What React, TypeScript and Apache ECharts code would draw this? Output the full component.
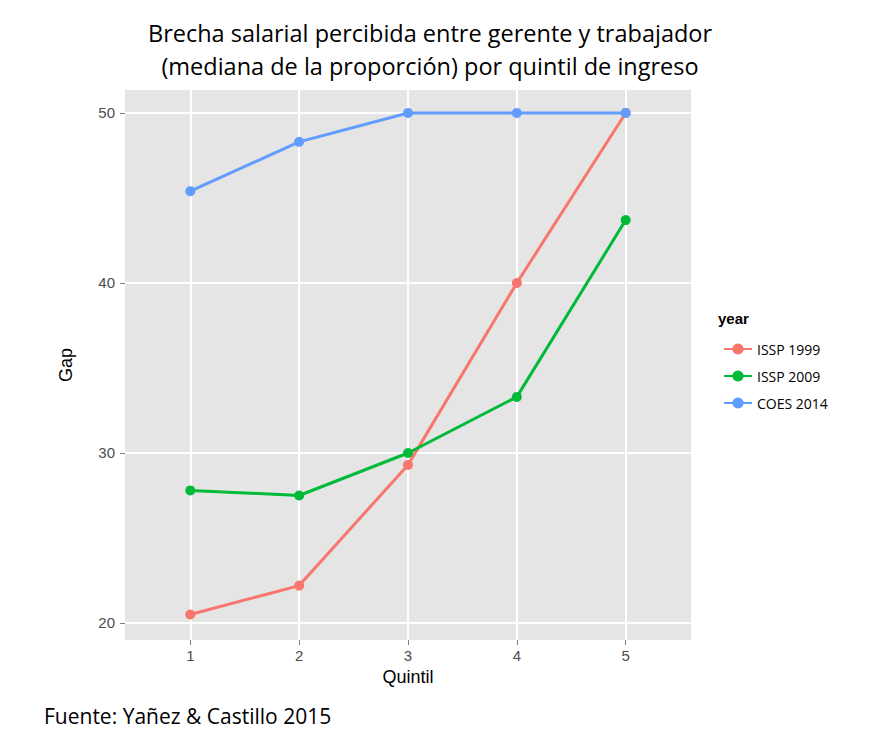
import React, { useEffect, useRef } from "react";
import * as echarts from "echarts";

const quintiles = [1, 2, 3, 4, 5];
const issp1999 = [20.5, 22.2, 29.3, 40, 50];
const issp2009 = [27.8, 27.5, 30, 33.3, 43.7];
const coes2014 = [45.4, 48.3, 50, 50, 50];
const yTicks = [20, 30, 40, 50];

const App: React.FC = () => {
  const chartRef = useRef<HTMLDivElement | null>(null);

  useEffect(() => {
    if (!chartRef.current) return;
    const chart = echarts.init(chartRef.current, undefined, { renderer: "svg" });

    const mkSeries = (name: string, vals: number[], color: string) => ({
      name,
      type: "line",
      data: quintiles.map((q, i) => [q, vals[i]]),
      symbol: "circle",
      symbolSize: 10,
      lineStyle: { width: 3, color },
      itemStyle: { color },
    });

    const option: echarts.EChartsOption = {
      animation: false,
      backgroundColor: "#ffffff",
      textStyle: { fontFamily: "Liberation Sans, Arial, sans-serif" },
      title: {
        text: "Brecha salarial percibida entre gerente y trabajador\n(mediana de la proporción) por quintil de ingreso",
        left: 425,
        top: 11,
        textAlign: "center",
        textStyle: { fontFamily: "Open Sans", fontSize: 23.5, fontWeight: "normal", color: "#000", lineHeight: 33 },
      },
      grid: { left: 125, right: 191, top: 90, bottom: 97, backgroundColor: "#e5e5e5", show: true, borderWidth: 0 },
      xAxis: {
        type: "value",
        min: 0.4,
        max: 5.6,
        name: "Quintil",
        nameLocation: "middle",
        nameGap: 26,
        nameTextStyle: { fontSize: 18, color: "#000" },
        axisLine: { show: false },
        axisTick: { show: true, length: 5, lineStyle: { color: "#7f7f7f" }, customValues: quintiles },
        axisLabel: { fontSize: 15, color: "#4d4d4d", customValues: quintiles, margin: 8 },
        splitLine: { show: true, lineStyle: { color: "#ffffff", width: 2 } },
      },
      yAxis: {
        type: "value",
        min: 19,
        max: 51.35,
        name: "Gap",
        nameLocation: "middle",
        nameGap: 50,
        nameTextStyle: { fontSize: 18, color: "#000" },
        axisLine: { show: false },
        axisTick: { show: true, length: 5, lineStyle: { color: "#7f7f7f" }, customValues: yTicks },
        axisLabel: { fontSize: 15, color: "#4d4d4d", customValues: yTicks, margin: 10 },
        splitLine: { show: true, lineStyle: { color: "#ffffff", width: 2 } },
      },
      legend: {
        orient: "vertical",
        left: 718,
        top: 337,
        itemGap: 13,
        itemWidth: 28,
        itemHeight: 14,
        textStyle: { fontFamily: "Open Sans", fontSize: 14, color: "#000" },
        data: ["ISSP 1999", "ISSP 2009", "COES 2014"],
      },
      graphic: [
        {
          type: "text",
          left: 718,
          top: 311,
          style: { text: "year", font: "bold 15px Liberation Sans, Arial, sans-serif", fill: "#000" },
        },
        {
          type: "text",
          left: 44,
          top: 705,
          style: { text: "Fuente: Yañez & Castillo 2015", font: "21px Open Sans", fill: "#000" },
        },
      ],
      series: [
        mkSeries("ISSP 1999", issp1999, "#F8766D"),
        mkSeries("ISSP 2009", issp2009, "#00BA38"),
        mkSeries("COES 2014", coes2014, "#619CFF"),
      ] as any,
    };

    chart.setOption(option);
    return () => chart.dispose();
  }, []);

  return <div ref={chartRef} style={{ position: "absolute", left: 0, top: 0, width: 882, height: 737 }} />;
};

export default App;
